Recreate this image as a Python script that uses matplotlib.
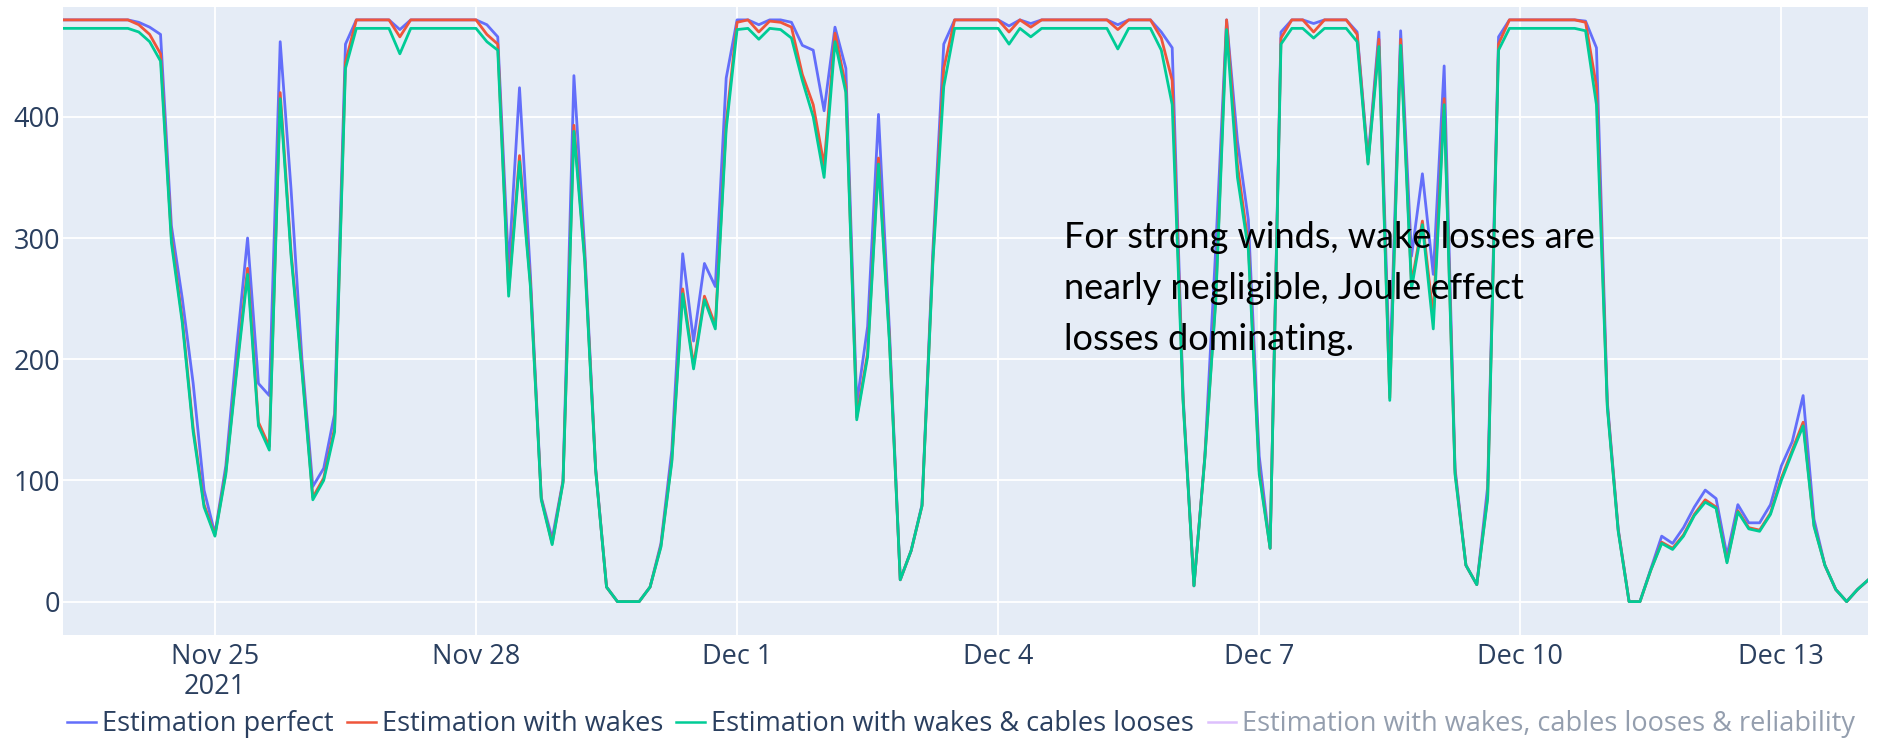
import pandas as pd
import matplotlib
matplotlib.use('Agg')
import matplotlib.pyplot as plt
from matplotlib.lines import Line2D

# 3-hourly samples
start = '2021-11-23 06:00'

perfect = [480, 480, 480, 480, 480, 480, 480, 478, 474, 468,
           310, 250, 180, 92, 56, 112, 210, 300, 180, 170,
           462, 340, 200, 95, 110, 155, 460, 480, 480, 480,
           480, 472, 480, 480, 480, 480, 480, 480, 480, 476,
           466, 275, 424, 270, 86, 52, 100, 434, 290, 110,
           12, 0, 0, 0, 12, 48, 125, 287, 215, 279,
           260, 432, 480, 480, 476, 480, 480, 478, 459, 455,
           405, 474, 440, 163, 227, 402, 225, 18, 42, 80,
           290, 460, 480, 480, 480, 480, 480, 475, 480, 477,
           480, 480, 480, 480, 480, 480, 480, 476, 480, 480,
           480, 470, 457, 170, 13, 120, 291, 480, 380, 315,
           120, 44, 470, 480, 480, 477, 480, 480, 480, 470,
           365, 470, 186, 471, 285, 353, 270, 442, 110, 30,
           14, 95, 466, 480, 480, 480, 480, 480, 480, 480,
           479, 457, 165, 60, 0, 0, 27, 54, 48, 61,
           78, 92, 85, 38, 80, 65, 65, 80, 112, 132,
           170, 68, 30, 10, 0, 10, 18]

wakes = [480, 480, 480, 480, 480, 480, 480, 476, 468, 452,
         300, 233, 143, 80, 55, 107, 193, 275, 148, 128,
         420, 288, 193, 86, 102, 143, 445, 480, 480, 480,
         480, 466, 480, 480, 480, 480, 480, 480, 480, 468,
         460, 256, 368, 263, 85, 48, 99, 393, 283, 109,
         12, 0, 0, 0, 12, 46, 117, 258, 195, 252,
         228, 395, 478, 480, 470, 479, 478, 474, 435, 410,
         360, 469, 425, 152, 205, 366, 218, 18, 42, 79,
         283, 440, 480, 480, 480, 480, 480, 470, 480, 474,
         480, 480, 480, 480, 480, 480, 480, 472, 480, 480,
         480, 465, 430, 167, 13, 119, 250, 480, 360, 295,
         108, 44, 465, 480, 480, 470, 480, 480, 480, 468,
         362, 464, 168, 464, 262, 314, 235, 415, 107, 30,
         14, 87, 460, 480, 480, 480, 480, 480, 480, 480,
         478, 425, 162, 59, 0, 0, 26, 49, 44, 55,
         72, 84, 78, 33, 75, 61, 59, 73, 102, 125,
         148, 63, 30, 10, 0, 10, 18]

cables = [473, 473, 473, 473, 473, 473, 473, 470, 462, 446,
          296, 230, 140, 78, 54, 105, 190, 270, 145, 125,
          415, 285, 190, 84, 100, 140, 440, 473, 473, 473,
          473, 452, 473, 473, 473, 473, 473, 473, 473, 462,
          455, 252, 363, 260, 84, 47, 98, 388, 280, 108,
          12, 0, 0, 0, 12, 45, 115, 254, 192, 249,
          225, 390, 472, 473, 464, 473, 472, 465, 430, 400,
          350, 462, 420, 150, 202, 361, 215, 18, 42, 79,
          280, 425, 473, 473, 473, 473, 473, 460, 473, 466,
          473, 473, 473, 473, 473, 473, 473, 456, 473, 473,
          473, 455, 410, 165, 13, 118, 247, 472, 350, 290,
          105, 44, 460, 473, 473, 465, 473, 473, 473, 462,
          361, 458, 166, 459, 258, 311, 225, 410, 105, 30,
          14, 85, 455, 473, 473, 473, 473, 473, 473, 473,
          471, 410, 160, 58, 0, 0, 26, 48, 43, 54,
          71, 82, 77, 32, 74, 60, 58, 72, 100, 123,
          145, 62, 30, 10, 0, 10, 18]

labels = ['Estimation perfect', 'Estimation with wakes',
          'Estimation with wakes & cables looses',
          'Estimation with wakes, cables looses & reliability']
colors = ['#636efa', '#EF553B', '#00cc96', '#ab63fa']
yticks = [0, 100, 200, 300, 400]
note = 'For strong winds, wake losses are\nnearly negligible, Joule effect\nlosses dominating.'

times = pd.date_range(start, periods=len(perfect), freq='3h')
xticks = pd.date_range('2021-11-25', '2021-12-13', freq='3D')

plt.rcParams['font.family'] = ['Open Sans', 'DejaVu Sans']
fig = plt.figure(figsize=(18.81, 7.41), dpi=100)
ax = fig.add_axes([0.0333, 0.143, 0.960, 0.8475])
ax.set_facecolor('#E5ECF6')

for vals, lab, col in zip([perfect, wakes, cables], labels, colors):
    ax.plot(times, vals, color=col, lw=2.0, label=lab)

ax.set_xlim(times[0], times[-1])
ax.set_ylim(-27.6, 490.6)
ax.set_xticks(xticks)
ax.set_xticklabels([f'{d:%b} {d.day}' + ('\n2021' if i == 0 else '')
                    for i, d in enumerate(xticks)])
ax.set_yticks(yticks)
ax.grid(color='white', lw=1.3)
ax.set_axisbelow(True)
for s in ax.spines.values():
    s.set_visible(False)
ax.tick_params(axis='both', length=0, labelsize=19.5, colors='#2a3f5f')
ax.tick_params(axis='y', pad=2)
ax.tick_params(axis='x', pad=6)
for t in ax.get_xticklabels():
    t.set_linespacing(1.1)

handles = [Line2D([], [], color=c, lw=1.8) for c in colors]
handles[3].set_alpha(0.4)
leg = fig.legend(handles, labels, loc='center left',
                 bbox_to_anchor=(67 / 1881, 1 - 724 / 741), ncol=4,
                 frameon=False, handlelength=1.07, handletextpad=0.21,
                 columnspacing=0.5, borderpad=0, borderaxespad=0,
                 fontsize=19.5, labelcolor='#2a3f5f')
leg.get_texts()[3].set_alpha(0.5)

fig.text(1064 / 1881, 1 - 221 / 741, note, fontsize=26, family='Lato',
         color='black', va='top', ha='left', linespacing=1.66)

fig.savefig('out.png', dpi=100)
